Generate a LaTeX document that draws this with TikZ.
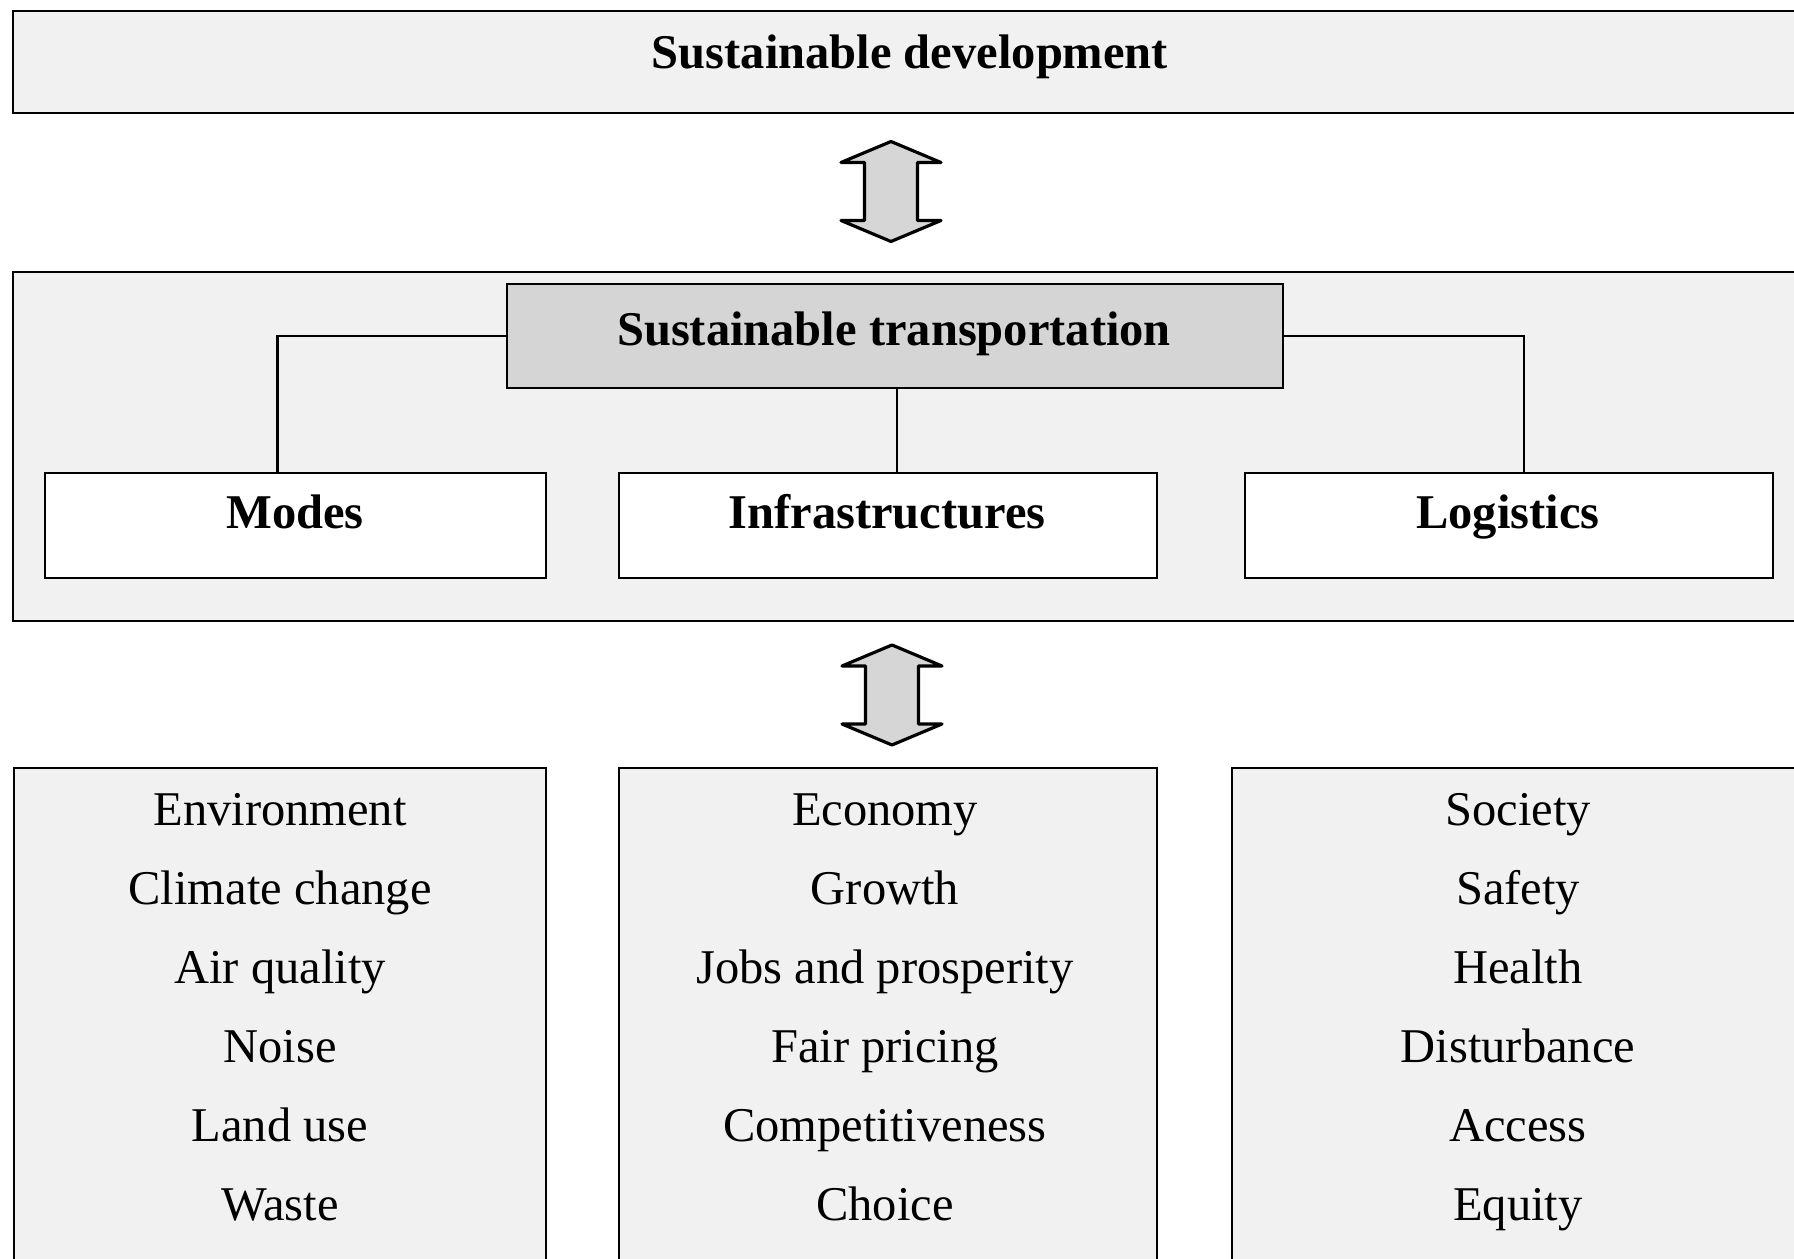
\documentclass[tikz,border=0pt]{standalone}
\usepackage{fontspec}
\setmainfont{Liberation Serif}
\definecolor{boxgray}{RGB}{241,241,241}
\definecolor{topgray}{RGB}{213,213,213}
\definecolor{arrgray}{RGB}{214,214,214}
\tikzset{
  panel/.style={draw, line width=0.8pt, fill=boxgray, inner sep=0pt},
  whitebox/.style={draw, line width=0.8pt, fill=white, inner sep=0pt},
  head/.style={font=\fontsize{13.8}{16}\selectfont\bfseries, anchor=base, inner sep=0pt},
  item/.style={font=\fontsize{13.8}{16}\selectfont, anchor=base, inner sep=0pt},
  link/.style={line width=0.7pt},
  updown/.style={draw, line width=0.9pt, fill=arrgray, line join=round}
}
\begin{document}
\begin{tikzpicture}[y=-1cm]
    \useasboundingbox (0,0) rectangle (17.94,12.59);
    \node[panel, minimum width=17.92cm, minimum height=1.02cm] (dev) at (9.09,0.62) {};
    \node[head] (devtxt) at (9.10,0.69) {Sustainable development};
    \node[panel, minimum width=17.92cm, minimum height=3.49cm] (mid) at (9.09,4.465) {};
    \node[panel, fill=topgray, minimum width=7.76cm, minimum height=1.04cm] (trans) at (8.95,3.36) {};
    \node[head] (transtxt) at (8.94,3.46) {Sustainable transportation};
    \node[whitebox, minimum width=5.01cm, minimum height=1.05cm] (modes) at (2.955,5.255) {};
    \node[whitebox, minimum width=5.38cm, minimum height=1.05cm] (infra) at (8.88,5.255) {};
    \node[whitebox, minimum width=5.28cm, minimum height=1.05cm] (logis) at (15.09,5.255) {};
    \node[head] (modestxt) at (2.95,5.29) {Modes};
    \node[head] (infratxt) at (8.87,5.29) {Infrastructures};
    \node[head] (logistxt) at (15.08,5.29) {Logistics};
    \draw[link] (trans.west) -| ([xshift=-0.18cm]modes.north);
    \draw[link] ([xshift=0.02cm]trans.south) -- ([xshift=0.02cm]trans.south |- infra.north);
    \draw[link] (trans.east) -| ([xshift=0.15cm]logis.north);
    % double arrows
    \coordinate (U) at (8.91,1.915);
    \coordinate (V) at (8.92,6.95);
    \foreach \p in {U,V}
      \draw[updown] (\p) ++(0,-0.50) -- ++(0.50,0.21) -- ++(-0.235,0) -- ++(0,0.58)
        -- ++(0.235,0) -- ++(-0.50,0.21) -- ++(-0.50,-0.21) -- ++(0.235,0)
        -- ++(0,-0.58) -- ++(-0.235,0) -- cycle;
    \node[panel, minimum width=5.32cm, minimum height=5.22cm] (env) at (2.80,10.29) {};
    \node[panel, minimum width=5.38cm, minimum height=5.22cm] (eco) at (8.88,10.29) {};
    \node[panel, minimum width=5.73cm, minimum height=5.22cm] (soc) at (15.185,10.29) {};
    \foreach \t [count=\i] in {Environment,Climate change,Air quality,Noise,Land use,Waste}
      \node[item] (env\i) at (2.80,7.47+0.79*\i) {\t};
    \foreach \t [count=\i] in {Economy,Growth,Jobs and prosperity,Fair pricing,Competitiveness,Choice}
      \node[item] (eco\i) at (8.85,7.47+0.79*\i) {\t};
    \foreach \t [count=\i] in {Society,Safety,Health,Disturbance,Access,Equity}
      \node[item] (soc\i) at (15.18,7.47+0.79*\i) {\t};
\end{tikzpicture}
\end{document}
